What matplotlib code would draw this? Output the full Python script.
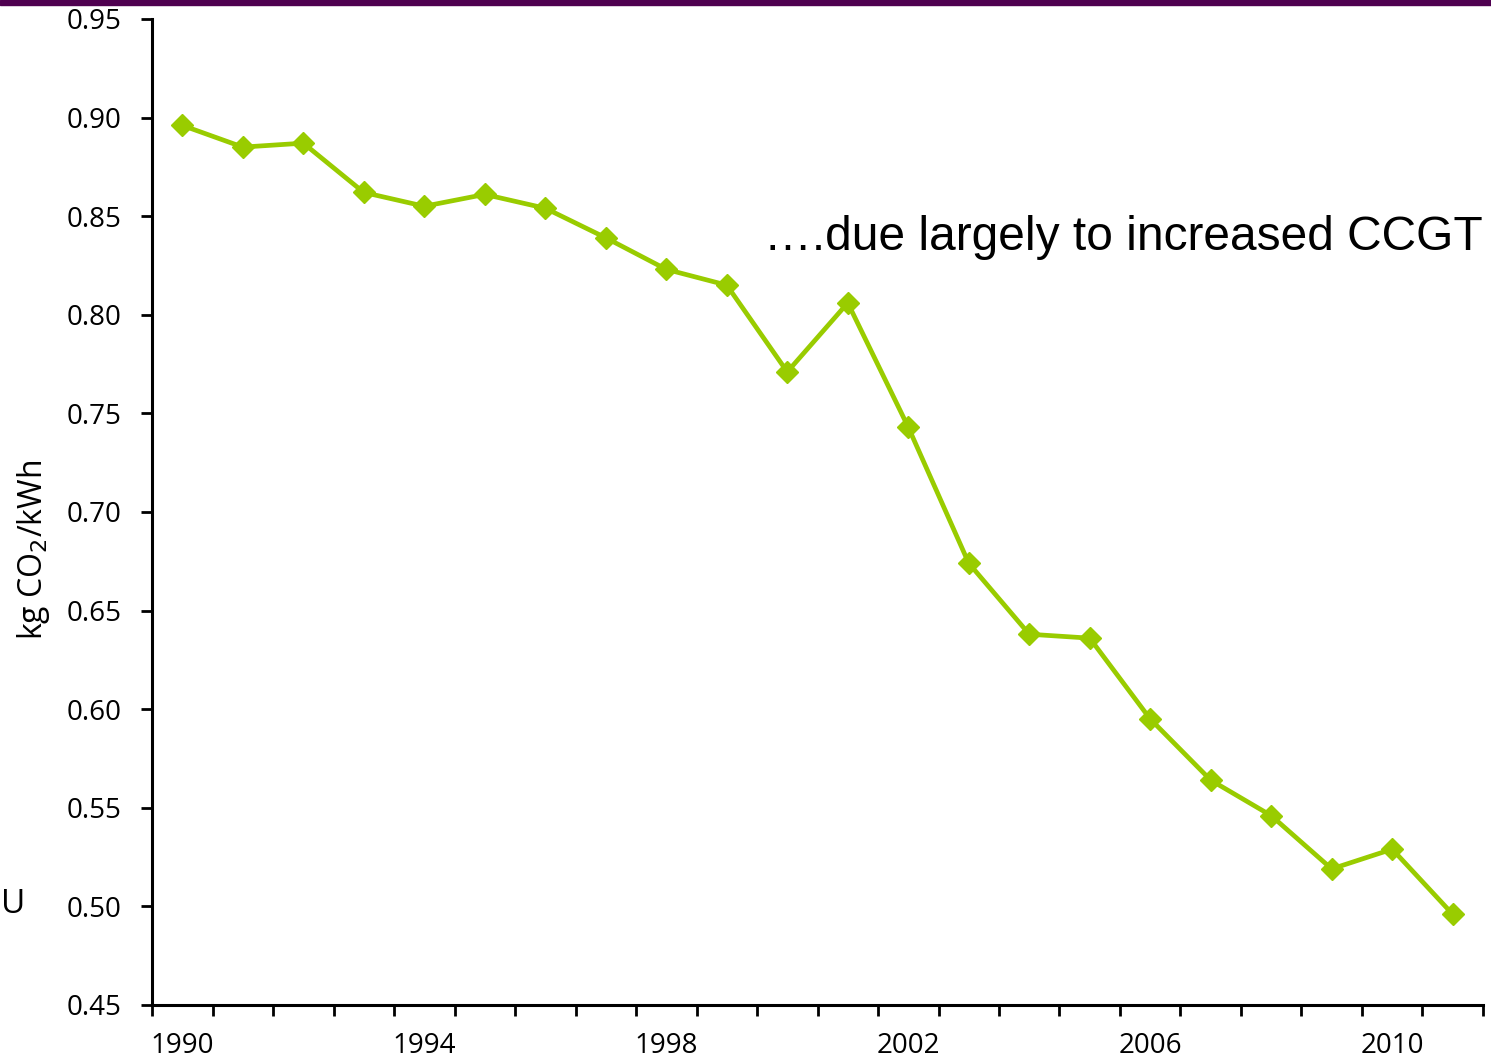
import numpy as np
import matplotlib.pyplot as plt
from matplotlib.patches import Rectangle

# Intensité carbone de l'électricité, 1990-2011
annees = np.arange(1990, 2012)
intensite = [0.896, 0.885, 0.887, 0.862, 0.855, 0.861, 0.854, 0.839, 0.823, 0.815,
             0.771, 0.806, 0.743, 0.674, 0.638, 0.636, 0.595, 0.564, 0.546, 0.519,
             0.529, 0.496]
etiquettes = ['1990', '1994', '1998', '2002', '2006', '2010']
yticks = [0.45, 0.50, 0.55, 0.60, 0.65, 0.70, 0.75, 0.80, 0.85, 0.90, 0.95]

vert = '#99cc00'
police = 'Open Sans'

fig = plt.figure(figsize=(14.91, 10.62), dpi=100)
ax = fig.add_axes([0.102, 0.0537, 0.8926, 0.9285])

# axe par catégories: points au centre, graduations entre les années
x = np.arange(len(annees))
ax.plot(x, intensite, color=vert, lw=3.4, marker='D', markersize=11,
        markeredgecolor=vert, markerfacecolor=vert, clip_on=False, zorder=3)

ax.set_xlim(-0.5, len(annees) - 0.5)
ax.set_ylim(0.45, 0.95)
ax.set_xticks(np.arange(-0.5, len(annees)))
ax.set_xticklabels([])
pos_lab = [int(e) - 1990 for e in etiquettes]
for p, e in zip(pos_lab, etiquettes):
    ax.text(p, -0.042, e, transform=ax.get_xaxis_transform(), ha='center',
            va='center', fontsize=20, family=police)

ax.set_yticks(yticks)
ax.set_yticklabels(['%.2f' % v for v in yticks], fontsize=20, family=police)
ax.tick_params(axis='both', direction='out', length=8, width=2, color='black')
ax.tick_params(axis='y', pad=14)

for s in ['top', 'right']:
    ax.spines[s].set_visible(False)
for s in ['left', 'bottom']:
    ax.spines[s].set_linewidth(2.2)

ax.set_ylabel('kg CO$_2$/kWh', fontsize=23, family=police)
ax.yaxis.set_label_coords(-0.075, 0.461)

ax.text(1.0, 0.766, '….due largely to increased CCGT', transform=ax.transAxes,
        ha='right', va='baseline', fontsize=34.5, family='Liberation Sans')

fig.text(0.001, 0.148, 'U', fontsize=24, family=police, ha='left', va='center')

# bandeau violet en haut
fig.patches.append(Rectangle((0, 0.995), 1, 0.005, transform=fig.transFigure,
                             color='#4f0050', zorder=5))

fig.savefig('out.png', dpi=100)
